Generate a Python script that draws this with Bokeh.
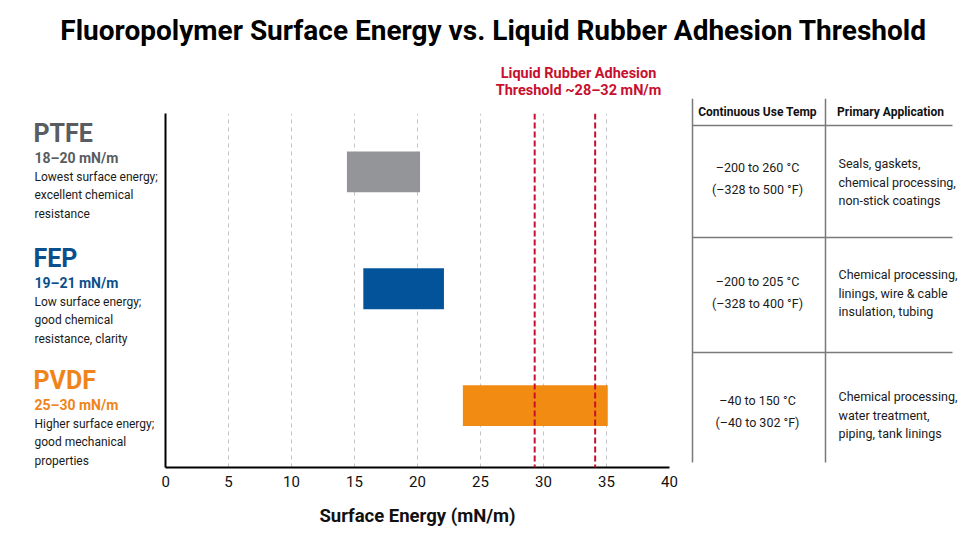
from bokeh.plotting import figure
from bokeh.layouts import column, row
from bokeh.models import Range1d, Span, ColumnDataSource, FixedTicker
from bokeh.core.properties import value
from bokeh.embed import file_html
from bokeh.resources import INLINE

# ---------------- data ----------------
materials = ["PTFE", "FEP", "PVDF"]
bar_start = [14.4, 15.7, 23.6]
bar_end = [20.2, 22.1, 35.1]
bar_y = [3, 2, 1]
range_texts = ["18\u201320 mN/m", "19\u201321 mN/m", "25\u201330 mN/m"]
descriptions = [
    ["Lowest surface energy;", "excellent chemical", "resistance"],
    ["Low surface energy;", "good chemical", "resistance, clarity"],
    ["Higher surface energy;", "good mechanical", "properties"],
]
threshold_lines = [29.3, 34.1]
x_ticks = [0, 5, 10, 15, 20, 25, 30, 35, 40]
x_label = "Surface Energy (mN/m)"
title_text = "Fluoropolymer Surface Energy vs. Liquid Rubber Adhesion Threshold"
threshold_text = ["Liquid Rubber Adhesion", "Threshold ~28\u201332 mN/m"]
temp_c = ["\u2013200 to 260 \u00b0C", "\u2013200 to 205 \u00b0C", "\u201340 to 150 \u00b0C"]
temp_f = ["(\u2013328 to 500 \u00b0F)", "(\u2013328 to 400 \u00b0F)", "(\u201340 to 302 \u00b0F)"]
applications = [
    ["Seals, gaskets,", "chemical processing,", "non-stick coatings"],
    ["Chemical processing,", "linings, wire & cable", "insulation, tubing"],
    ["Chemical processing,", "water treatment,", "piping, tank linings"],
]
table_headers = ["Continuous Use Temp", "Primary Application"]

# ---------------- style ----------------
bar_colors = ["#939598", "#03539a", "#f18b12"]
name_colors = ["#595c60", "#0b4f8c", "#f0841a"]
RED = "#c8102e"
FONT = "Roboto"

W, H = 960, 540
TOP_H = 98            # height of the title strip
ROW_H = H - TOP_H
LEFT_W, MAIN_W = 161, 519
RIGHT_W = W - LEFT_W - MAIN_W
FL, FR, FT, FB = 163, 669, 113, 467  # plot frame edges in page pixels


def text_fig(w, h):
    f = figure(width=w, height=h, x_range=Range1d(0, w), y_range=Range1d(h, 0),
               output_backend="svg", toolbar_location=None, frame_align=False,
               x_axis_location=None, y_axis_location=None, min_border=0)
    f.outline_line_color = None
    f.xgrid.visible = False
    f.ygrid.visible = False
    return f


def put(f, x, y, text, size, color="#1a1a1a", bold=False, align="left"):
    f.text(x=[x], y=[y], text=[text], text_font=value(FONT), text_font_size=f"{size}px",
           text_color=color, text_font_style="bold" if bold else "normal",
           text_align=align, text_baseline="middle")


# ---- title strip ----
top = text_fig(W, TOP_H)
put(top, 493, 30, title_text, 28, "#000000", True, "center")
put(top, 578, 73, threshold_text[0], 14.5, RED, True, "center")
put(top, 578, 90, threshold_text[1], 14.5, RED, True, "center")

# ---- left panel ----
left = text_fig(LEFT_W, ROW_H)
name_y = [133, 258, 380]
for i in range(3):
    y0 = name_y[i] - TOP_H
    put(left, 33, y0, materials[i], 25, name_colors[i], True)
    put(left, 34, y0 + 24, range_texts[i], 14, name_colors[i], True)
    for j, t in enumerate(descriptions[i]):
        put(left, 34, y0 + 43 + 18.5 * j, t, 12)

# ---- main plot ----
p = figure(width=MAIN_W, height=ROW_H, x_range=Range1d(0, 40), y_range=Range1d(0.47, 3.5),
           output_backend="svg", toolbar_location=None, frame_align=False,
           min_border_left=FL - LEFT_W, min_border_right=LEFT_W + MAIN_W - FR,
           min_border_top=FT - TOP_H, min_border_bottom=H - FB)
p.outline_line_color = None

src = ColumnDataSource(dict(y=bar_y, left=bar_start, right=bar_end, color=bar_colors, name=materials))
p.hbar(y="y", left="left", right="right", height=0.35, fill_color="color", line_color=None, source=src)

for v in threshold_lines:
    p.add_layout(Span(location=v, dimension="height", line_color=RED, line_dash="6 3", line_width=2))

xa = p.xaxis[0]
xa.ticker = FixedTicker(ticks=x_ticks)
xa.axis_line_color = "black"
xa.axis_line_width = 2
xa.major_tick_line_color = None
xa.minor_tick_line_color = None
xa.major_tick_in = 0
xa.major_tick_out = 0
xa.major_label_text_font_size = "15px"
xa.major_label_text_font = FONT
xa.major_label_text_color = "#111111"
xa.major_label_standoff = 8
xa.axis_label = x_label
xa.axis_label_text_font = FONT
xa.axis_label_text_font_size = "18.5px"
xa.axis_label_text_font_style = "bold"
xa.axis_label_text_color = "#111111"
xa.axis_label_standoff = 15

ya = p.yaxis[0]
ya.axis_line_color = "black"
ya.axis_line_width = 2
ya.major_tick_line_color = None
ya.minor_tick_line_color = None
ya.major_tick_in = 0
ya.major_tick_out = 0
ya.major_label_standoff = 0
ya.major_label_text_color = None
ya.major_label_text_font_size = "0px"

p.xgrid.grid_line_color = "#c4c4c4"
p.xgrid.grid_line_dash = "4 4"
p.xgrid.grid_line_width = 1
p.ygrid.visible = False

# ---- table ----
right = text_fig(RIGHT_W, ROW_H)
ox, oy = LEFT_W + MAIN_W, TOP_H
TX0, TXM, TX1 = 692 - ox, 825 - ox, 952 - ox
right.segment(x0=[TX0, TXM], y0=[98 - oy, 98 - oy], x1=[TX0, TXM], y1=[462 - oy, 462 - oy],
              line_color="#7a7a7a", line_width=1.5)
right.segment(x0=[TX0] * 3, x1=[TX1] * 3, y0=[125 - oy, 237 - oy, 352 - oy], y1=[125 - oy, 237 - oy, 352 - oy],
              line_color="#7a7a7a", line_width=1.5)
put(right, 757 - ox, 111 - oy, table_headers[0], 12, "#111111", True, "center")
put(right, 890 - ox, 111 - oy, table_headers[1], 12, "#111111", True, "center")
row_c = [167, 281, 400]
row_a = [163, 274, 396]
for i in range(3):
    put(right, 757 - ox, row_c[i] - oy, temp_c[i], 12.5, "#1a1a1a", False, "center")
    put(right, 757 - ox, row_c[i] + 22 - oy, temp_f[i], 12.5, "#1a1a1a", False, "center")
    for j, t in enumerate(applications[i]):
        put(right, 838 - ox, row_a[i] - oy + 18.5 * j, t, 12.5)

layout = column(top, row(left, p, right, spacing=0), spacing=0)
open("out.html", "w").write(file_html(layout, INLINE))
